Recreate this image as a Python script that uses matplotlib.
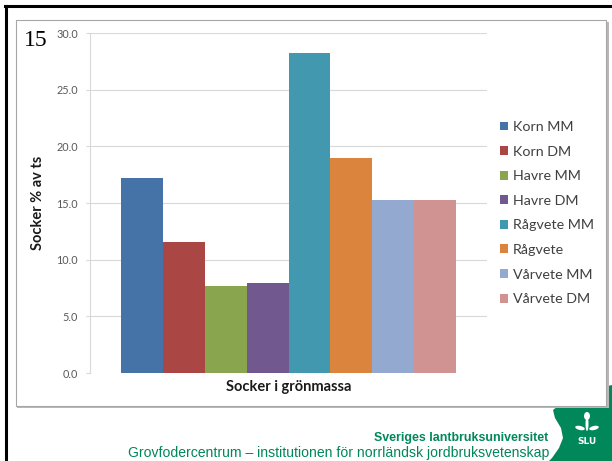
import matplotlib
matplotlib.use("Agg")
import matplotlib.pyplot as plt
from matplotlib.patches import Rectangle, Polygon, Ellipse
from matplotlib.lines import Line2D

# ---- data ----
series_names = ["Korn MM", "Korn DM", "Havre MM", "Havre DM",
                "Rågvete MM", "Rågvete", "Vårvete MM", "Vårvete DM"]
series_values = [17.2, 11.6, 7.7, 7.9, 28.2, 19.0, 15.3, 15.3]
series_colors = ["#4572A7", "#AA4643", "#89A54E", "#71588F",
                 "#4198AF", "#DB843D", "#93A9CF", "#D19392"]
y_ticks = [0, 5, 10, 15, 20, 25, 30]
y_tick_labels = ["0.0", "5.0", "10.0", "15.0", "20.0", "25.0", "30.0"]
x_label = "Socker i grönmassa"
y_label = "Socker % av ts"
slide_number = "15"
footer_bold = "Sveriges lantbruksuniversitet"
footer_regular = "Grovfodercentrum – institutionen för norrländsk jordbruksvetenskap"

W, H = 612, 461
fig = plt.figure(figsize=(W / 100, H / 100), dpi=100)
fig.patch.set_facecolor("white")

def fx(px):
    return px / W

def fy(py):
    return 1 - py / H

# outer black slide border (top and left)
fig.add_artist(Line2D([fx(5), fx(612)], [fy(6.5), fy(6.5)], color="black", lw=2.2))
fig.add_artist(Line2D([fx(6), fx(6)], [fy(6), fy(461)], color="black", lw=2.2))

# chart box with shadow
fig.add_artist(Rectangle((fx(17), fy(408)), fx(592), (408 - 22) / H,
                         facecolor="#B8B8B8", edgecolor="none", zorder=0.5))
fig.add_artist(Rectangle((fx(16), fy(406)), fx(590), (406 - 20) / H,
                         facecolor="white", edgecolor="#A6A6A6", lw=0.8, zorder=0.6))

# axes
ax = fig.add_axes([fx(90), 1 - 373 / H, fx(487) - fx(90), (373 - 33) / H])
ax.set_zorder(2)
ax.patch.set_alpha(0)
xs = list(range(len(series_values)))
bars = ax.bar(xs, series_values, width=1.0, color=series_colors,
              label=series_names, zorder=3, linewidth=0)
ax.set_xlim(-1.25, len(series_values) - 1 + 1.25)
ax.set_ylim(0, 30)
ax.set_yticks(y_ticks)
ax.set_yticklabels(y_tick_labels, fontfamily="Lato", fontsize=7.8, color="#595959")
ax.set_xticks([])
for v in y_ticks[1:]:
    ax.axhline(v, color="#D9D9D9", lw=0.8, zorder=1)
for s in ["top", "right", "bottom"]:
    ax.spines[s].set_visible(False)
ax.spines["left"].set_color("#D9D9D9")
ax.spines["left"].set_linewidth(0.8)
ax.tick_params(axis="y", length=3, width=0.8, color="#D9D9D9", pad=5.5)
ax.set_xlabel(x_label, fontfamily="Lato", fontweight="bold", fontsize=10.5,
              color="#1A1A1A", labelpad=5)
ax.set_ylabel(y_label, fontfamily="Lato", fontweight="bold", fontsize=10.5,
              color="#1A1A1A", labelpad=8)

leg = fig.legend(handles=bars, labels=series_names,
                 loc="upper left", bbox_to_anchor=(fx(500), fy(121)),
                 frameon=False, prop={"family": "Lato", "size": 10.3},
                 handlelength=0.58, handleheight=0.58, handletextpad=0.33,
                 labelspacing=0.88, borderpad=0, borderaxespad=0)
for t in leg.get_texts():
    t.set_color("#404040")

# slide number
fig.text(fx(24), fy(46), slide_number, fontfamily="Liberation Serif",
         fontsize=17, color="black", ha="left", va="baseline")

# green SLU corner shape
green = "#00875A"
shape = Polygon([(fx(612), fy(385)), (fx(600), fy(388)), (fx(580), fy(395)),
                 (fx(562), fy(403)), (fx(553), fy(410)), (fx(555), fy(418)),
                 (fx(561), fy(428)), (fx(563), fy(438)), (fx(559), fy(448)),
                 (fx(552), fy(458)), (fx(549), fy(461)), (fx(612), fy(461))],
                closed=True, facecolor=green, edgecolor="none", zorder=0.2)
fig.add_artist(shape)
# logo symbol
fig.add_artist(Ellipse((fx(587), fy(424)), 3 / W, 14 / H, facecolor="white", edgecolor="none"))
fig.add_artist(Ellipse((fx(580), fy(428)), 10 / W, 4 / H, angle=-20, facecolor="white", edgecolor="none"))
fig.add_artist(Ellipse((fx(594), fy(428)), 10 / W, 4 / H, angle=20, facecolor="white", edgecolor="none"))
fig.add_artist(Ellipse((fx(587), fy(416)), 6 / W, 8 / H, facecolor="white", edgecolor="none"))
fig.text(fx(587), fy(441), "SLU", fontfamily="DejaVu Sans", fontweight="bold",
         fontsize=6.5, color="white", ha="center", va="center")

# footer texts
fig.text(fx(548), fy(441), footer_bold, fontfamily="Liberation Sans", fontweight="bold",
         fontsize=8.9, color=green, ha="right", va="baseline")
fig.text(fx(549), fy(457), footer_regular, fontfamily="Liberation Sans",
         fontsize=10.1, color=green, ha="right", va="baseline")

fig.savefig("out.png", dpi=100, facecolor="white")
